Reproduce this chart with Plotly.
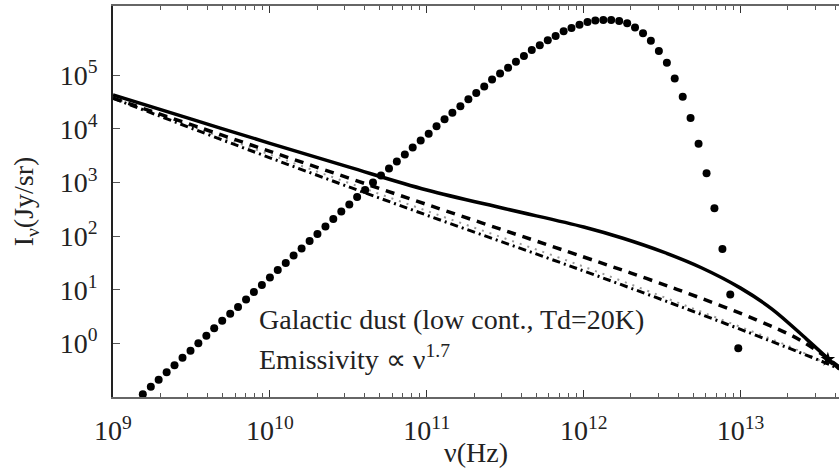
import plotly.graph_objects as go

# ---- data (log10 values) ----
# dotted series (modified blackbody, Td=20K)
dots_log_nu = [9.190, 9.241, 9.291, 9.342, 9.392, 9.443, 9.494, 9.544, 9.595, 9.645,
               9.696, 9.747, 9.797, 9.848, 9.898, 9.949, 10.000, 10.050, 10.101, 10.151,
               10.202, 10.253, 10.303, 10.354, 10.404, 10.455, 10.506, 10.556, 10.607, 10.657,
               10.708, 10.759, 10.809, 10.860, 10.910, 10.961, 11.012, 11.062, 11.113, 11.163,
               11.214, 11.265, 11.315, 11.366, 11.416, 11.467, 11.518, 11.568, 11.619, 11.669,
               11.720, 11.771, 11.821, 11.872, 11.922, 11.973, 12.024, 12.074, 12.125, 12.175,
               12.226, 12.277, 12.327, 12.378, 12.428, 12.479, 12.530, 12.580, 12.631, 12.681,
               12.732, 12.783, 12.833, 12.884, 12.934, 12.985]
dots_log_I = [-0.95, -0.81, -0.68, -0.54, -0.41, -0.27, -0.14, 0.00, 0.14, 0.28,
              0.42, 0.55, 0.68, 0.82, 0.96, 1.09, 1.23, 1.37, 1.50, 1.64,
              1.77, 1.91, 2.04, 2.18, 2.32, 2.46, 2.59, 2.73, 2.86, 3.00,
              3.13, 3.26, 3.39, 3.52, 3.65, 3.78, 3.91, 4.05, 4.18, 4.30,
              4.42, 4.55, 4.67, 4.79, 4.92, 5.03, 5.14, 5.25, 5.36, 5.47,
              5.56, 5.65, 5.73, 5.82, 5.88, 5.94, 5.99, 6.02, 6.03, 6.03,
              6.01, 5.97, 5.89, 5.78, 5.64, 5.45, 5.23, 4.94, 4.60, 4.20,
              3.72, 3.17, 2.52, 1.76, 0.91, -0.09]

solid_log_nu = [9.0, 9.5, 10.0, 10.5, 11.0, 11.5, 12.0, 12.25, 12.5, 12.75, 13.0, 13.2, 13.42, 13.63]
solid_log_I = [4.63, 4.18, 3.73, 3.29, 2.86, 2.51, 2.17, 1.96, 1.71, 1.41, 1.03, 0.64, 0.08, -0.48]

dash_log_nu = [9.0, 10.0, 11.0, 12.0, 12.4, 12.74, 13.1, 13.38, 13.63]
dash_log_I = [4.57, 3.58, 2.59, 1.61, 1.21, 0.85, 0.44, 0.06, -0.44]

dashdot_log_nu = [9.0, 10.0, 11.0, 12.0, 12.74, 13.36, 13.63]
dashdot_log_I = [4.57, 3.46, 2.39, 1.35, 0.55, -0.15, -0.47]

grey_log_nu = [9.0, 10.0, 11.0, 12.0, 12.74, 13.36, 13.63]
grey_log_I = [4.58, 3.52, 2.47, 1.43, 0.60, -0.12, -0.50]

star_log_nu = [13.556]
star_log_I = [-0.30]

x_major = [9, 10, 11, 12, 13]
y_major = [0, 1, 2, 3, 4, 5]

FONT = "Liberation Serif"
TXT = "#222222"
FS = 28


def p(v):
    return [10 ** a for a in v]


fig = go.Figure()
fig.add_trace(go.Scatter(x=p(grey_log_nu), y=p(grey_log_I), mode="lines",
                         line=dict(color="#9a9a9a", width=2, dash="2px,6px", shape="spline", smoothing=1.0),
                         showlegend=False))
fig.add_trace(go.Scatter(x=p(dashdot_log_nu), y=p(dashdot_log_I), mode="lines",
                         line=dict(color="black", width=3, dash="8px,4px,2px,4px", shape="spline", smoothing=1.0),
                         showlegend=False))
fig.add_trace(go.Scatter(x=p(dash_log_nu), y=p(dash_log_I), mode="lines",
                         line=dict(color="black", width=3.5, dash="9px,7px", shape="spline", smoothing=1.0),
                         showlegend=False))
fig.add_trace(go.Scatter(x=p(solid_log_nu), y=p(solid_log_I), mode="lines",
                         line=dict(color="black", width=3.5, shape="spline", smoothing=1.0),
                         showlegend=False))
fig.add_trace(go.Scatter(x=p(dots_log_nu), y=p(dots_log_I), mode="markers",
                         marker=dict(color="black", size=8),
                         showlegend=False))
fig.add_trace(go.Scatter(x=p(star_log_nu), y=p(star_log_I), mode="markers",
                         marker=dict(color="black", size=11, symbol="star"),
                         showlegend=False))

minor_x = []
for d in range(9, 14):
    for m in range(2, 10):
        v = m * 10 ** d
        if v < 10 ** 13.627:
            minor_x.append(v)

fig.update_xaxes(
    type="log", range=[9, 13.627], automargin=False,
    showline=True, linecolor="#666666", linewidth=1.5, mirror="ticks",
    ticks="inside", ticklen=7, tickwidth=1, tickcolor="#333333",
    tickvals=[10 ** e for e in x_major],
    ticktext=["10<sup>%d</sup>" % e for e in x_major],
    ticklabelstandoff=8,
    minor=dict(ticks="inside", ticklen=4, tickcolor="#555555", tickvals=minor_x),
    showgrid=False, zeroline=False,
    tickfont=dict(family=FONT, size=FS, color=TXT),
    title=dict(text="ν(Hz)", font=dict(family=FONT, size=FS, color=TXT), standoff=0),
)
fig.update_yaxes(
    type="log", range=[-1, 6.29], automargin=False,
    showline=True, linecolor="#222222", linewidth=1.5, mirror=False,
    ticks="inside", ticklen=7, tickwidth=1, tickcolor="#555555",
    tickvals=[10 ** e for e in y_major],
    ticktext=["10<sup>%d</sup>" % e for e in y_major],
    ticklabelstandoff=8,
    showgrid=False, zeroline=False,
    tickfont=dict(family=FONT, size=FS, color=TXT),
    title=dict(text="I<sub>ν</sub>(Jy/sr)", font=dict(family=FONT, size=FS, color=TXT), standoff=18),
)

fig.add_annotation(xref="paper", yref="paper", x=0.198, y=0.197, xanchor="left", yanchor="middle",
                   text="Galactic dust (low cont., Td=20K)", showarrow=False,
                   font=dict(family=FONT, size=FS, color=TXT))
fig.add_annotation(xref="paper", yref="paper", x=0.198, y=0.1, xanchor="left", yanchor="middle",
                   text="Emissivity ∝ ν<sup>1.7</sup>", showarrow=False,
                   font=dict(family=FONT, size=FS, color=TXT))

fig.update_layout(
    width=839, height=468,
    margin=dict(l=113, r=0, t=6, b=71),
    plot_bgcolor="white", paper_bgcolor="white",
    showlegend=False,
    font=dict(family=FONT),
)

fig.write_html("out.html", config={"displayModeBar": False},
               post_script="document.body.style.margin='0';document.body.style.overflow='hidden';")
